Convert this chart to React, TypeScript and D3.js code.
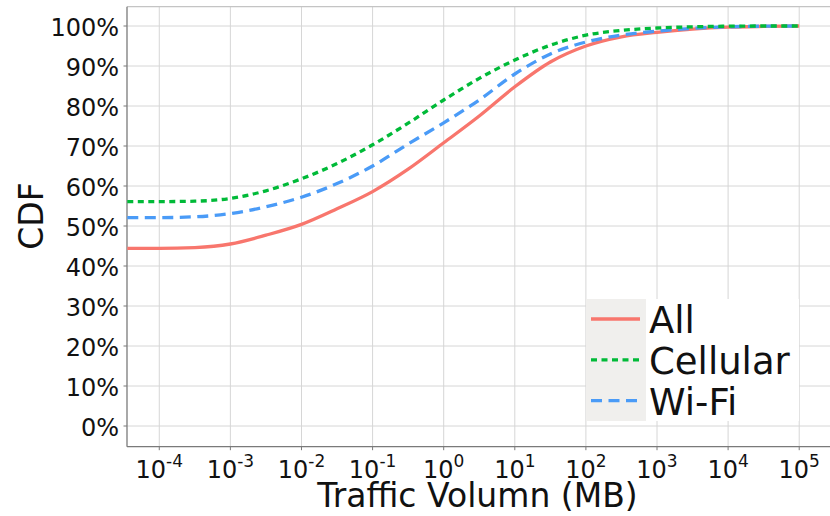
import React from "react";
import * as d3 from "d3";

const volumeExp = [-4.45, -4, -3.5, -3, -2.5, -2, -1.5, -1, -0.5, 0, 0.5, 1, 1.5, 2, 2.5, 3, 3.5, 4, 4.5, 5];
const allCdf = [44.4, 44.4, 44.6, 45.5, 47.7, 50.4, 54.3, 58.6, 64.2, 70.8, 77.5, 84.8, 91.0, 95.0, 97.3, 98.4, 99.2, 99.7, 99.9, 100];
const cellularCdf = [56.1, 56.1, 56.2, 56.9, 58.8, 61.8, 65.6, 70.3, 75.7, 81.5, 86.9, 91.5, 95.2, 97.7, 98.9, 99.5, 99.8, 99.95, 100, 100];
const wifiCdf = [52.1, 52.1, 52.3, 53.1, 54.8, 57.2, 60.6, 65.0, 70.5, 75.8, 81.5, 88.0, 93.0, 96.0, 97.75, 98.7, 99.4, 99.8, 99.95, 100];
const xTickExp = [-4, -3, -2, -1, 0, 1, 2, 3, 4, 5];
const yTicks = [0, 10, 20, 30, 40, 50, 60, 70, 80, 90, 100];
const seriesNames = ["All", "Cellular", "Wi-Fi"];

const COLORS = ["#F8766D", "#00BA38", "#4A9BF7"];
const DASHES = [null, "6,4.5", "11,6.5"];

export default function App() {
  const W = 830, H = 516;
  const left = 127, top = 6.7, bottom = 446.7, right = 830;
  const x = d3.scaleLog().domain([Math.pow(10, -4.454), Math.pow(10, 5.433)]).range([left, right]);
  const y = d3.scaleLinear().domain([0, 100]).range([426, 26]);
  const xs = volumeExp.map((e) => Math.pow(10, e));
  const series = [allCdf, cellularCdf, wifiCdf];
  const line = d3
    .line<number>()
    .x((_, i) => x(xs[i]))
    .y((d) => y(d))
    .curve(d3.curveMonotoneX);
  const font = "DejaVu Sans";
  const grid = "#d6d6d6";
  const tickFs = 24, supFs = 17;

  const legX = 586, legY = 299, legW = 213, legH = 122;

  return (
    <svg width={W} height={H} style={{ position: "fixed", left: 0, top: 0 }} fontFamily={font}>
      <rect x={0} y={0} width={W} height={H} fill="#fff" />
      {yTicks.map((t) => (
        <line key={"gy" + t} x1={left} x2={right} y1={y(t)} y2={y(t)} stroke={grid} strokeWidth={1} />
      ))}
      {xTickExp.map((e) => (
        <line key={"gx" + e} x1={x(Math.pow(10, e))} x2={x(Math.pow(10, e))} y1={top} y2={bottom} stroke={grid} strokeWidth={1} />
      ))}
      <line x1={left} x2={right} y1={top} y2={top} stroke="#c4c4c4" strokeWidth={1.2} />
      <line x1={left} x2={left} y1={top} y2={bottom} stroke="#7a7a7a" strokeWidth={1.3} />
      <line x1={left} x2={right} y1={bottom} y2={bottom} stroke="#7a7a7a" strokeWidth={1.3} />
      {yTicks.map((t) => (
        <g key={"ty" + t}>
          <line x1={left - 3.5} x2={left} y1={y(t)} y2={y(t)} stroke="#7a7a7a" strokeWidth={1} />
          <text x={119} y={y(t) + 9.5} textAnchor="end" fontSize={tickFs} fill="#111">
            {t}%
          </text>
        </g>
      ))}
      {xTickExp.map((e) => {
        const px = x(Math.pow(10, e));
        const baseW = tickFs * 1.272;
        const expStr = String(e);
        const supW = supFs * (0.636 + (e < 0 ? 0.361 : 0));
        const sx = px - (baseW + supW) / 2;
        return (
          <g key={"tx" + e}>
            <line x1={px} x2={px} y1={bottom} y2={bottom + 3.5} stroke="#7a7a7a" strokeWidth={1} />
            <text x={sx} y={478.3} fontSize={tickFs} fill="#111">
              10
            </text>
            <text x={sx + baseW} y={466.5} fontSize={supFs} fill="#111">
              {expStr}
            </text>
          </g>
        );
      })}
      <defs>
        <clipPath id="plotclip">
          <rect x={left} y={top} width={right - left} height={bottom - top} />
        </clipPath>
      </defs>
      <g clipPath="url(#plotclip)">
        {[0, 2, 1].map((i) => (
          <path
            key={"s" + i}
            d={line(series[i]) || ""}
            fill="none"
            stroke={COLORS[i]}
            strokeWidth={3.3}
            strokeDasharray={DASHES[i] || undefined}
          />
        ))}
      </g>
      <rect x={legX} y={legY} width={legW} height={legH} fill="#fff" />
      <rect x={legX} y={legY} width={60} height={legH} fill="#f0efed" />
      {seriesNames.map((n, i) => {
        const cy = 319 + i * 40.8;
        return (
          <g key={"lg" + n}>
            <line x1={591} x2={640} y1={cy} y2={cy} stroke={COLORS[i]} strokeWidth={3.3} strokeDasharray={DASHES[i] || undefined} />
            <text x={649} y={cy + 14} fontSize={37} fill="#111">
              {n}
            </text>
          </g>
        );
      })}
      <text x={477.5} y={507.3} textAnchor="middle" fontSize={33} fill="#111">
        Traffic Volumn (MB)
      </text>
      <text transform="translate(43,216) rotate(-90)" textAnchor="middle" fontSize={33} fill="#111">
        CDF
      </text>
    </svg>
  );
}
